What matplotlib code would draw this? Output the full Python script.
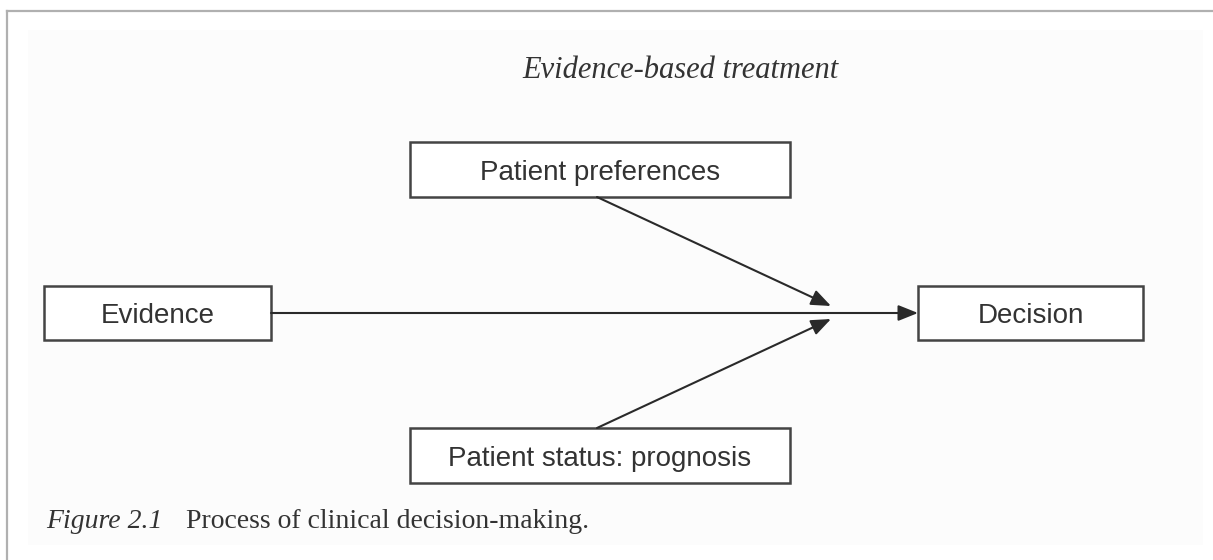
import matplotlib
matplotlib.use("Agg")
import matplotlib.pyplot as plt
from matplotlib.patches import Rectangle

# ---- content ----
title = "Evidence-based treatment"
node_labels = ["Patient preferences", "Evidence", "Decision", "Patient status: prognosis"]
caption_label = "Figure 2.1"
caption_text = "Process of clinical decision-making."
# edges: (source node index, target) ; target "junction" or node index
edges = [(1, 2), (0, "junction"), (3, "junction")]

# ---- layout (pixel coordinates, y downwards) ----
W, H = 1213, 560
boxes = {
    0: (410, 142, 790, 197),
    1: (44, 286, 271, 340),
    2: (918, 286, 1143, 340),
    3: (410, 428, 790, 483),
}
junction_top = (831, 306)
junction_bot = (831, 319)

fig = plt.figure(figsize=(W / 100, H / 100), dpi=100)
fig.patch.set_facecolor("white")
ax = fig.add_axes([0, 0, 1, 1])
ax.set_xlim(0, W)
ax.set_ylim(H, 0)
ax.axis("off")

# page frame
ax.add_patch(Rectangle((28, 30), 1175, 515, facecolor="#fcfcfc", edgecolor="none", zorder=0))
ax.plot([7, W], [11, 11], color="#b0b0b0", lw=1.6, zorder=1)
ax.plot([7, 7], [11, H], color="#b0b0b0", lw=1.6, zorder=1)

text_col = "#333333"
edge_col = "#444444"

ax.text(680, 67, title, ha="center", va="center_baseline", fontsize=22,
        family="Liberation Serif", style="italic", color=text_col)

for i, lab in enumerate(node_labels):
    x0, y0, x1, y1 = boxes[i]
    ax.add_patch(Rectangle((x0, y0), x1 - x0, y1 - y0, facecolor="white",
                           edgecolor=edge_col, lw=1.8, zorder=2))
    ax.text((x0 + x1) / 2, (y0 + y1) / 2 + 3, lab, ha="center", va="center",
            fontsize=20, family="Liberation Sans", color=text_col, zorder=3)

arrowprops = dict(arrowstyle="-|>,head_length=0.75,head_width=0.3", lw=1.5,
                  color="#2a2a2a", shrinkA=0, shrinkB=0, mutation_scale=16)

for src, dst in edges:
    sx0, sy0, sx1, sy1 = boxes[src]
    if dst == "junction":
        if sy1 < junction_top[1]:
            start = ((sx0 + sx1) / 2 - 3, sy1)
            end = junction_top
        else:
            start = ((sx0 + sx1) / 2 - 3, sy0)
            end = junction_bot
    else:
        dx0, dy0, dx1, dy1 = boxes[dst]
        start = (sx1, (sy0 + sy1) / 2)
        end = (dx0, (dy0 + dy1) / 2)
    ax.annotate("", xy=end, xytext=start, arrowprops=arrowprops, zorder=4)

ax.text(46, 521, caption_label, ha="left", va="center", fontsize=20,
        family="Liberation Serif", style="italic", color=text_col)
ax.text(186, 521, caption_text, ha="left", va="center", fontsize=20,
        family="Liberation Serif", color=text_col)

fig.savefig("out.png", dpi=100, facecolor=fig.get_facecolor())
